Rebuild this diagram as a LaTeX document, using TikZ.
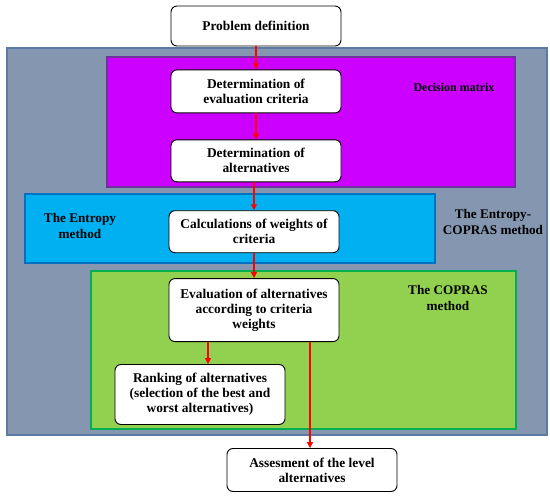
\documentclass[tikz,border=0pt]{standalone}
\usepackage{fontspec}
\setmainfont{Liberation Serif}
\usepackage{xcolor}
\usepackage{tikz}
\usetikzlibrary{positioning,arrows.meta,calc}
\definecolor{bggray}{HTML}{8496B0}
\definecolor{edgegray}{HTML}{5B7BA3}
\definecolor{bgpurple}{HTML}{CC00FF}
\definecolor{edgepurple}{HTML}{7030A0}
\definecolor{bgblue}{HTML}{00B0F0}
\definecolor{edgeblue}{HTML}{0070C0}
\definecolor{bggreen}{HTML}{92D050}
\definecolor{edgegreen}{HTML}{00B050}
\tikzset{
  box/.style={draw=black,line width=0.9pt,rounded corners=6pt,fill=white,align=center,inner sep=3pt,minimum width=170pt,font=\fontsize{13.4}{15}\selectfont\bfseries},
  zone/.style={line width=1.5pt},
  lbl/.style={align=center,inner sep=0pt,font=\fontsize{13.2}{16.5}\selectfont\bfseries},
  arr/.style={-{Triangle[length=6pt,width=6pt]},red,line width=1.2pt},
}
\begin{document}
\begin{tikzpicture}[x=1pt,y=-1pt]
\useasboundingbox (0,0) rectangle (550,498);
\draw[zone,draw=edgegray,fill=bggray] (7,48) rectangle (547,435);
\draw[zone,draw=edgepurple,fill=bgpurple] (107,57) rectangle (515,187);
\draw[zone,draw=edgeblue,fill=bgblue] (25,194) rectangle (435,263);
\draw[zone,draw=edgegreen,fill=bggreen] (91,271) rectangle (516,429);

\node[lbl,font=\fontsize{12}{14}\selectfont\bfseries] (dmlbl) at (454,87) {Decision matrix};
\node[lbl] (entlbl) at (80,226) {The Entropy\\method};
\node[lbl] (eclbl) at (493,222) {The Entropy-\\COPRAS method};
\node[lbl] (coplbl) at (448,298) {The COPRAS\\method};

\node[box,minimum height=40pt] (prob) at (256,26) {Problem definition};
\node[box,minimum height=43pt,below=23pt of prob] (crit) {Determination of\\evaluation criteria};
\node[box,minimum height=42pt,below=26pt of crit] (alt) {Determination of\\alternatives};
\node[box,minimum height=42pt,below=28pt of alt,xshift=-2pt] (calc) {Calculations of weights of\\criteria};
\node[box,minimum height=63pt,below=25pt of calc] (eval) {Evaluation of alternatives\\according to criteria\\weights};
\node[box,minimum height=60pt,below=22pt of eval,xshift=-54pt] (rank) {Ranking of alternatives\\(selection of the best and\\worst alternatives)};
\node[box,minimum height=43pt,below=106pt of eval,xshift=58pt] (assess) {Assesment of the level\\alternatives};

\draw[arr] (prob) -- (crit);
\draw[arr] (crit) -- (alt);
\draw[arr] (alt.south -| calc) -- (calc);
\draw[arr] (calc) -- (eval);
\draw[arr] ([xshift=-46pt]eval.south) -- ([xshift=-46pt]eval.south |- rank.north);
\draw[arr] ([xshift=56pt]eval.south) -- ([xshift=56pt]eval.south |- assess.north);
\end{tikzpicture}
\end{document}
